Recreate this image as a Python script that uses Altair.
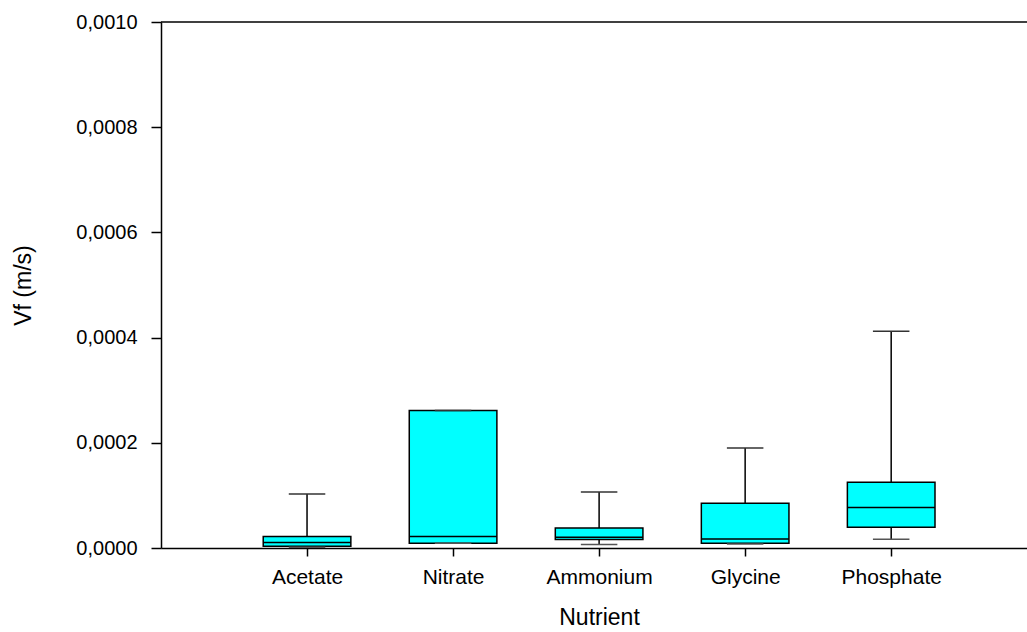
import altair as alt
import pandas as pd

# Nutrient uptake velocity box plots (five-number summaries per nutrient)
nutrients = ["Acetate", "Nitrate", "Ammonium", "Glycine", "Phosphate"]
positions = [1, 2, 3, 4, 5]
whisker_low = [0.0000013, 0.0000089, 0.0000065, 0.0000076, 0.0000166]
q1 = [0.0000032, 0.0000089, 0.0000160, 0.0000089, 0.0000394]
median = [0.0000103, 0.0000217, 0.0000204, 0.0000171, 0.0000768]
q3 = [0.0000217, 0.0002614, 0.0000380, 0.0000850, 0.0001250]
whisker_high = [0.0001027, 0.0002614, 0.0001065, 0.0001900, 0.0004120]

y_ticks = [0.0, 0.0002, 0.0004, 0.0006, 0.0008, 0.0010]

df = pd.DataFrame({
    "nutrient": nutrients,
    "pos": positions,
    "lo": whisker_low,
    "q1": q1,
    "med": median,
    "q3": q3,
    "hi": whisker_high,
})

FONT = "Liberation Sans"
BOX_HALF = 0.3
CAP_HALF = 0.125

x_scale = alt.Scale(domain=[0, 5.93], nice=False, zero=False)
y_scale = alt.Scale(domain=[0, 0.001], nice=False)

label_map = "{" + ",".join(f"{p}:'{n}'" for p, n in zip(positions, nutrients)) + "}"

x_axis = alt.Axis(
    title="Nutrient",
    values=positions,
    labelExpr=f"{label_map}[datum.value]",
    grid=False,
    tickSize=8,
    tickColor="black",
    tickWidth=1.5,
    domainColor="black",
    domainWidth=1.5,
    labelFont=FONT,
    labelFontSize=21,
    labelColor="black",
    labelPadding=10,
    titleFont=FONT,
    titleFontSize=23,
    titleFontWeight="normal",
    titleColor="black",
    titlePadding=19,
    titleX=438,
)

y_axis = alt.Axis(
    title="Vf (m/s)",
    values=y_ticks,
    labelExpr="replace(format(datum.value, '.4f'), '.', ',')",
    grid=False,
    tickSize=10,
    tickColor="black",
    tickWidth=1.5,
    domainColor="black",
    domainWidth=1.5,
    labelFont=FONT,
    labelFontSize=20,
    labelColor="black",
    labelPadding=14,
    titleFont=FONT,
    titleFontSize=23,
    titleFontWeight="normal",
    titleColor="black",
    titlePadding=40,
)

base = alt.Chart(df).transform_calculate(
    left=f"datum.pos - {BOX_HALF}",
    right=f"datum.pos + {BOX_HALF}",
    cap_l=f"datum.pos - {CAP_HALF}",
    cap_r=f"datum.pos + {CAP_HALF}",
)

# whisker stems
upper_stem = base.mark_rule(color="black", strokeWidth=1.5).encode(
    x=alt.X("pos:Q", scale=x_scale, axis=x_axis),
    y=alt.Y("q3:Q", scale=y_scale, axis=y_axis),
    y2="hi:Q",
)
lower_stem = base.mark_rule(color="black", strokeWidth=1.5).encode(
    x=alt.X("pos:Q", scale=x_scale),
    y=alt.Y("lo:Q", scale=y_scale),
    y2="q1:Q",
)

# boxes
boxes = base.mark_rect(fill="#00FFFF", stroke="black", strokeWidth=1.5).encode(
    x=alt.X("left:Q", scale=x_scale),
    x2="right:Q",
    y=alt.Y("q1:Q", scale=y_scale),
    y2="q3:Q",
)

# medians
medians = base.mark_rule(color="black", strokeWidth=1.5).encode(
    x=alt.X("left:Q", scale=x_scale),
    x2="right:Q",
    y=alt.Y("med:Q", scale=y_scale),
)

# whisker caps
upper_cap = base.mark_rule(color="#333333", strokeWidth=1.5).encode(
    x=alt.X("cap_l:Q", scale=x_scale),
    x2="cap_r:Q",
    y=alt.Y("hi:Q", scale=y_scale),
)
lower_cap = base.mark_rule(color="#555555", strokeWidth=1.5).encode(
    x=alt.X("cap_l:Q", scale=x_scale),
    x2="cap_r:Q",
    y=alt.Y("lo:Q", scale=y_scale),
)

# top frame line
top_line = alt.Chart(pd.DataFrame({"top": [0.001]})).mark_rule(
    color="black", strokeWidth=1.5
).encode(
    y=alt.Y("top:Q", scale=y_scale),
    x=alt.value(0),
    x2=alt.value(866),
)

chart = alt.layer(
    upper_stem, lower_stem, boxes, medians, upper_cap, lower_cap, top_line
).properties(
    width=866,
    height=526,
    autosize=alt.AutoSizeParams(type="none"),
    padding={"left": 161, "top": 22, "right": 0, "bottom": 84},
    background="white",
).configure_view(stroke=None)

chart.save("out.html", embed_options={"renderer": "svg", "actions": False})
